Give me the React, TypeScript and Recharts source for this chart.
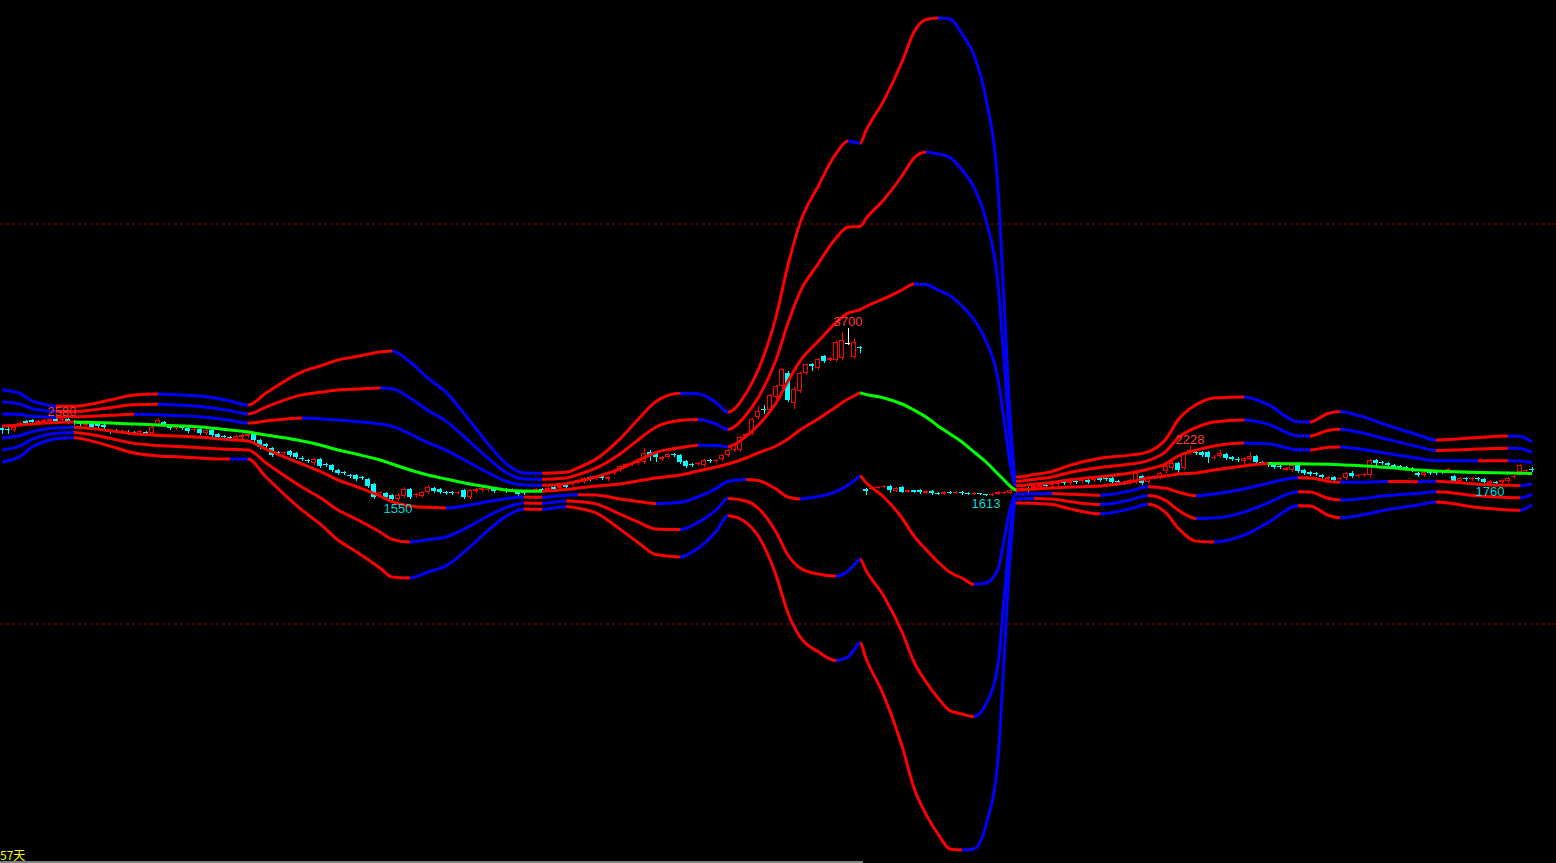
import React from 'react';
import { ComposedChart, XAxis, YAxis, Bar, Line, Scatter, ReferenceLine } from 'recharts';

const W = 1556;
const H = 863;

// daily candles: [open, high, low, close]
const candles: number[][] = [
  [2450,2475,2388,2425],[2438,2463,2388,2425],[2425,2475,2413,2463],[2488,2538,2475,2513],[2538,2550,2500,2513],
  [2550,2563,2513,2525],[2513,2550,2500,2538],[2525,2563,2513,2550],[2538,2575,2525,2563],[2563,2575,2525,2538],
  [2550,2580,2538,2563],[2563,2575,2513,2525],[2538,2550,2500,2513],[2525,2538,2488,2500],[2488,2525,2475,2513],
  [2525,2538,2450,2463],[2500,2513,2463,2475],[2488,2500,2450,2463],[2413,2425,2388,2400],[2425,2438,2400,2413],
  [2413,2425,2388,2400],[2400,2425,2375,2388],[2400,2413,2375,2388],[2400,2425,2388,2413],[2400,2413,2375,2388],
  [2388,2475,2375,2463],[2488,2575,2475,2550],[2525,2538,2475,2488],[2475,2488,2438,2450],[2450,2475,2438,2463],
  [2475,2488,2438,2450],[2450,2463,2400,2413],[2425,2450,2413,2438],[2438,2450,2375,2388],[2388,2438,2375,2425],
  [2425,2438,2350,2363],[2375,2388,2325,2338],[2350,2363,2325,2338],[2338,2350,2313,2325],[2300,2363,2288,2350],
  [2338,2388,2300,2363],[2350,2388,2338,2375],[2375,2388,2288,2300],[2300,2313,2200,2213],[2250,2263,2213,2225],
  [2200,2213,2100,2113],[2150,2163,2125,2138],[2138,2163,2125,2150],[2163,2175,2100,2113],[2138,2150,2075,2088],
  [2075,2100,2050,2063],[2050,2063,2025,2038],[2013,2075,2000,2063],[2063,2075,1963,1975],[2000,2013,1975,1988],
  [1988,2000,1913,1925],[1925,1938,1875,1888],[1900,1913,1875,1888],[1863,1875,1838,1850],[1863,1875,1800,1813],
  [1838,1850,1813,1825],[1813,1825,1713,1725],[1750,1763,1575,1588],[1638,1663,1613,1650],[1638,1650,1575,1588],
  [1613,1625,1555,1563],[1563,1638,1550,1613],[1600,1713,1588,1688],[1688,1700,1575,1588],[1613,1638,1588,1625],
  [1600,1663,1588,1650],[1650,1738,1638,1713],[1700,1713,1650,1663],[1688,1700,1638,1650],[1650,1663,1625,1638],
  [1650,1663,1625,1638],[1638,1663,1625,1650],[1675,1688,1575,1588],[1588,1688,1575,1675],[1663,1700,1650,1688],
  [1675,1713,1663,1700],[1675,1700,1663,1688],[1688,1700,1650,1663],[1675,1713,1663,1700],[1688,1700,1650,1663],
  [1675,1700,1663,1688],[1650,1663,1613,1625],[1650,1663,1625,1638],[1663,1688,1650,1675],[1675,1700,1663,1688],
  [1688,1700,1650,1663],[1675,1713,1663,1700],[1713,1725,1675,1688],[1700,1738,1688,1725],[1738,1750,1700,1713],
  [1750,1788,1738,1775],[1775,1813,1763,1800],[1788,1838,1775,1825],[1838,1850,1800,1813],[1825,1850,1813,1838],
  [1850,1863,1813,1825],[1813,1850,1800,1838],[1888,1913,1875,1900],[1925,1988,1913,1975],[1975,2013,1963,2000],
  [2000,2025,1988,2013],[2013,2038,2000,2025],[2025,2200,2013,2138],[2150,2175,2050,2113],[2150,2163,2038,2088],
  [2063,2100,2050,2088],[2088,2138,2075,2125],[2125,2138,2100,2113],[2113,2125,2013,2025],[2038,2050,1963,1975],
  [2000,2013,1975,1988],[2000,2025,1988,2013],[1988,2063,1975,2050],[2050,2063,2025,2038],[2038,2063,2025,2050],
  [2063,2125,2050,2113],[2113,2188,2100,2175],[2175,2263,2163,2250],[2175,2350,2163,2338],[2350,2388,2338,2375],
  [2388,2575,2375,2563],[2588,2725,2575,2663],[2688,2738,2638,2675],[2675,2875,2663,2863],[2838,2988,2825,2975],
  [2975,3200,2963,3188],[3138,3163,2788,2800],[2763,2963,2700,2938],[2913,3150,2900,3138],[3138,3263,3125,3250],
  [3250,3263,3175,3225],[3200,3325,3188,3313],[3350,3363,3275,3288],[3300,3338,3300,3325],[3300,3538,3288,3525],
  [3325,3650,3313,3550],[3513,3700,3500,3513],[3338,3575,3325,3525],[3463,3475,3400,3450],[1688,1700,1625,1663],
  [1688,1713,1688,1700],[1700,1725,1700,1713],[1713,1738,1713,1725],[1725,1738,1650,1675],[1663,1713,1663,1700],
  [1713,1725,1650,1650],[1656,1675,1650,1669],[1669,1675,1650,1656],[1675,1688,1638,1650],[1638,1675,1638,1663],
  [1663,1675,1625,1638],[1638,1650,1619,1625],[1625,1663,1625,1650],[1656,1663,1638,1644],[1644,1663,1638,1656],
  [1650,1663,1625,1638],[1638,1650,1619,1625],[1625,1650,1625,1638],[1638,1638,1619,1625],[1625,1631,1613,1619],
  [1619,1638,1616,1631],[1625,1663,1625,1650],[1644,1663,1638,1656],[1638,1688,1638,1675],[1663,1700,1650,1688],
  [1675,1713,1663,1700],[1700,1713,1663,1675],[1700,1738,1688,1725],[1713,1750,1700,1738],[1738,1750,1713,1725],
  [1738,1775,1725,1763],[1750,1788,1738,1775],[1775,1788,1750,1763],[1763,1800,1750,1788],[1788,1800,1763,1775],
  [1788,1813,1775,1800],[1800,1813,1763,1775],[1800,1825,1788,1813],[1825,1838,1788,1800],[1825,1838,1800,1813],
  [1825,1838,1763,1775],[1788,1800,1763,1775],[1775,1788,1750,1763],[1763,1813,1750,1800],[1775,1913,1763,1888],
  [1850,1863,1750,1763],[1775,1850,1763,1838],[1838,1863,1825,1850],[1838,1900,1825,1888],[1913,1988,1900,1975],
  [1950,2050,1938,2013],[2013,2025,1900,1925],[1950,2150,1938,2138],[2138,2228,2125,2175],[2150,2163,2125,2138],
  [2150,2163,2100,2113],[2150,2163,2025,2088],[2075,2113,2063,2088],[2100,2175,2088,2138],[2125,2138,2063,2075],
  [2088,2100,2050,2063],[2063,2088,2038,2050],[2038,2088,1988,2075],[2063,2150,2050,2100],[2100,2113,2013,2025],
  [2025,2038,2000,2013],[2013,2025,1975,1988],[1988,2000,1950,1963],[1975,1988,1950,1963],[1931,1963,1925,1944],
  [1925,2000,1913,1988],[2013,2025,1900,1913],[1925,1938,1875,1888],[1900,1913,1863,1875],[1888,1900,1863,1875],
  [1863,1875,1825,1838],[1813,1850,1800,1838],[1838,1850,1788,1800],[1813,1838,1800,1825],[1825,1900,1813,1888],
  [1888,1913,1838,1850],[1850,1875,1838,1863],[1863,1888,1850,1875],[1863,2063,1850,2050],[2050,2063,1963,2013],
  [2025,2038,2000,2013],[2013,2025,1975,1988],[1988,2000,1950,1963],[1975,1988,1950,1963],[1963,1975,1938,1950],
  [1950,1963,1913,1925],[1888,1900,1850,1863],[1863,1913,1850,1900],[1900,1913,1875,1888],[1900,1913,1875,1888],
  [1913,1925,1888,1900],[1925,1950,1913,1938],[1850,1863,1775,1788],[1788,1838,1775,1825],[1825,1838,1800,1813],
  [1813,1838,1800,1825],[1825,1838,1800,1813],[1813,1825,1763,1775],[1763,1800,1760,1788],[1775,1788,1763,1763],
  [1775,1813,1763,1800],[1788,1838,1775,1825],[1838,1863,1825,1850],[1900,2000,1888,1988],[1913,1938,1900,1925],
  [1938,1963,1913,1925],
];

// days where the channel was sampled
const bandDays = [
  0,3,5,7,9,12,14,18,22,26,30,33,38,41,44,50,53,56,59,63,65,68,71,74,78,81,84,87,90,94,
  96,99,103,106,109,113,116,119,121,124,126,129,131,133,136,139,141,142,143,144,147,150,152,154,156,158,160,162,164,166,
  167,168,169,172,175,178,183,188,191,194,196,199,202,207,211,216,218,221,223,226,231,236,239,246,251,253,255,
];

// channel middle line
const midLine = [
  2475,2488,2500,2512,2519,2525,2521,2512,2500,2488,2475,2462,2425,2400,2362,2288,2238,2175,2125,2050,
  2000,1925,1862,1812,1750,1712,1675,1662,1659,1681,1700,1725,1750,1788,1825,1862,1912,1962,2000,2075,
  2138,2225,2312,2425,2562,2712,2812,2850,2888,2869,2825,2750,2675,2588,2475,2375,2275,2150,2025,1875,
  1800,1725,1675,1688,1700,1712,1725,1775,1825,1850,1875,1888,1925,1975,2006,2002,2000,1996,1992,1981,
  1956,1925,1912,1894,1888,1885,1881,
];

// distance between neighbouring channel lines
const bandStep = [
  150,131,96,78,68,66,72,96,121,129,129,129,121,112,175,288,329,375,406,450,
  471,450,404,362,262,181,110,75,75,72,84,112,188,256,319,341,322,269,216,269,
  344,538,725,862,969,1056,1075,1058,1040,1100,1241,1425,1575,1656,1700,1729,1700,1654,1512,1188,
  750,300,54,60,69,91,116,112,109,154,225,284,300,288,246,175,175,212,221,209,
  175,146,129,146,154,154,131,
];

const marks = [
  { day: 10, price: 2580, text: '2580', kind: 'high' },
  { day: 66, price: 1550, text: '1550', kind: 'low' },
  { day: 141, price: 3700, text: '3700', kind: 'high' },
  { day: 164, price: 1613, text: '1613', kind: 'low' },
  { day: 198, price: 2228, text: '2228', kind: 'high' },
  { day: 248, price: 1760, text: '1760', kind: 'low' },
];

const gridLevels = [0, 5000];

const bandKeys = ['u3', 'u2', 'u1', 'mid', 'l1', 'l2', 'l3'];
const bandMult: Record<string, number> = { u3: 3, u2: 2, u1: 1, mid: 0, l1: -1, l2: -2, l3: -3 };

const bandValues: Record<string, number[]> = {};
bandKeys.forEach((k) => {
  bandValues[k] = midLine.map((m, j) => m + bandMult[k] * bandStep[j]);
});

const rows: any[] = candles.map(([o, h, l, c], day) => ({ day, o, h, l, c, range: [l, h] }));
bandDays.forEach((d, j) => {
  bandKeys.forEach((k) => {
    rows[d][k] = bandValues[k][j];
  });
});

const RED = '#ff0000';
const BLUE = '#0000ff';
const GREEN = '#00ff00';
const CYAN = '#00ffff';

function stopsFor(k: string) {
  const vals = bandValues[k];
  const d0 = bandDays[0];
  const span = bandDays[bandDays.length - 1] - d0;
  const out: React.ReactElement[] = [];
  for (let j = 0; j < vals.length - 1; j++) {
    const rising = vals[j + 1] >= vals[j];
    let col: string;
    if (k === 'mid') col = rising ? RED : GREEN;
    else if (bandMult[k] > 0) col = rising ? RED : BLUE;
    else col = rising ? BLUE : RED;
    out.push(<stop key={`a${j}`} offset={(bandDays[j] - d0) / span} stopColor={col} />);
    out.push(<stop key={`b${j}`} offset={(bandDays[j + 1] - d0) / span} stopColor={col} />);
  }
  return out;
}

const Candle = (props: any) => {
  const { x, y, width, height, payload } = props;
  if (!payload || x == null) return null;
  const { o, h, l, c } = payload;
  const k = h > l ? height / (h - l) : 0;
  const py = (v: number) => y + (h - v) * k;
  const cx = Math.round(x + width / 2) + 0.5;
  const left = Math.round(x);
  const bw = Math.round(width);
  const top = Math.round(py(Math.max(o, c)));
  const bot = Math.round(py(Math.min(o, c)));
  const hiY = Math.round(py(h));
  const loY = Math.round(py(l));
  const col = c > o ? RED : c < o ? CYAN : '#ffffff';
  if (bot - top < 1.5) {
    return (
      <g shapeRendering="crispEdges">
        <line x1={cx} x2={cx} y1={hiY} y2={loY + 1} stroke={col} strokeWidth={1} />
        <rect x={left} y={top} width={bw} height={Math.max(1, bot - top)} fill={col} />
      </g>
    );
  }
  if (c > o) {
    return (
      <g shapeRendering="crispEdges">
        <line x1={cx} x2={cx} y1={hiY} y2={top} stroke={col} strokeWidth={1} />
        <line x1={cx} x2={cx} y1={bot} y2={loY + 1} stroke={col} strokeWidth={1} />
        <rect x={left + 0.5} y={top + 0.5} width={bw - 1} height={bot - top - 1} fill="#000" stroke={col} strokeWidth={1} />
      </g>
    );
  }
  return (
    <g shapeRendering="crispEdges">
      <line x1={cx} x2={cx} y1={hiY} y2={loY + 1} stroke={col} strokeWidth={1} />
      <rect x={left} y={top} width={bw} height={bot - top} fill={col} />
    </g>
  );
};

const MarkLabel = (props: any) => {
  const { cx, cy, payload } = props;
  if (cx == null || !payload) return null;
  const high = payload.kind === 'high';
  return (
    <text
      x={cx}
      y={high ? cy - 2 : cy + 13}
      textAnchor="middle"
      fill={high ? '#ff3c3c' : '#00d8d8'}
      fontSize={13}
      fontFamily="'Liberation Sans', Arial, sans-serif"
    >
      {payload.text}
    </text>
  );
};

export default function App() {
  return (
    <div style={{ position: 'absolute', left: 0, top: 0, width: W, height: H, background: '#000', overflow: 'hidden' }}>
      <ComposedChart width={W} height={H} data={rows} margin={{ top: 0, right: 0, bottom: 0, left: 0 }}>
        <defs>
          {bandKeys.map((k) => (
            <linearGradient key={k} id={`g-${k}`} x1="0" y1="0" x2="1" y2="0">
              {stopsFor(k)}
            </linearGradient>
          ))}
        </defs>
        <XAxis dataKey="day" type="number" domain={[-1 / 3, 259]} hide allowDataOverflow />
        <YAxis type="number" domain={[-2987.5, 7800]} hide allowDataOverflow />
        {gridLevels.map((v) => (
          <ReferenceLine key={v} y={v} stroke="#8c0000" strokeDasharray="3 3" strokeWidth={1} />
        ))}
        <Bar dataKey="range" barSize={5} shape={<Candle />} isAnimationActive={false} />
        <Scatter data={marks} dataKey="price" shape={<MarkLabel />} isAnimationActive={false} />
        {bandKeys.map((k) => (
          <Line
            key={k}
            dataKey={k}
            type="monotone"
            stroke={`url(#g-${k})`}
            strokeWidth={3}
            dot={false}
            activeDot={false}
            connectNulls
            isAnimationActive={false}
          />
        ))}
      </ComposedChart>
      <div style={{ position: 'absolute', left: 0, top: 849, color: '#ffff00', fontSize: 12, fontFamily: "'Noto Sans CJK SC', sans-serif", lineHeight: '12px' }}>
        57天
      </div>
      <div style={{ position: 'absolute', left: 0, top: 861, width: 863, height: 2, background: '#808080' }} />
    </div>
  );
}
